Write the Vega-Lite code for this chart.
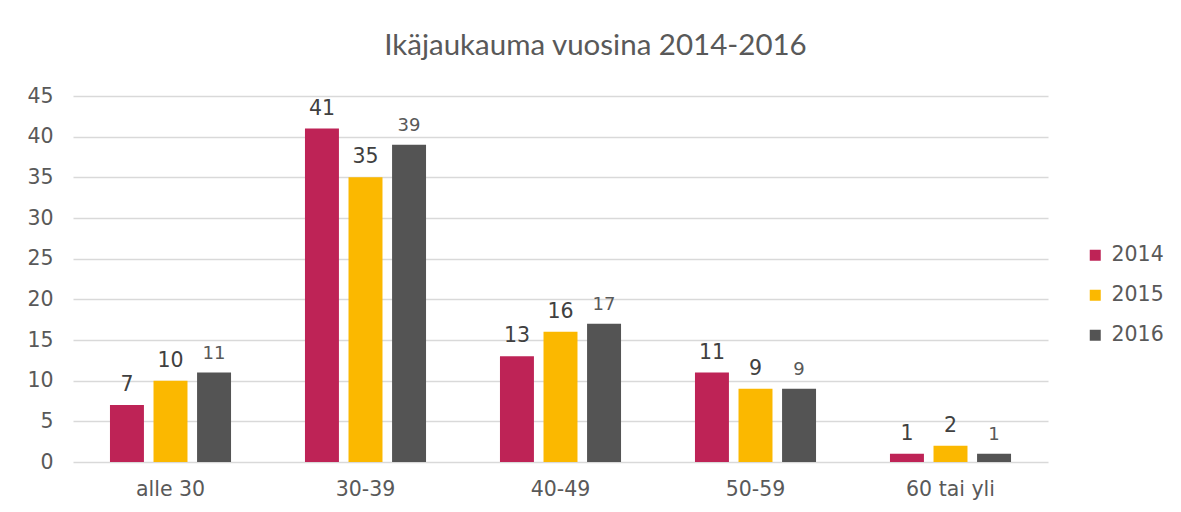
{
  "$schema": "https://vega.github.io/schema/vega-lite/v6.json",
  "width": 975,
  "height": 366,
  "autosize": {"type": "none"},
  "padding": {"left": 73, "top": 96, "right": 133, "bottom": 50},
  "background": "white",
  "config": {
    "view": {"stroke": null},
    "font": "DejaVu Sans",
    "axis": {"labelFont": "DejaVu Sans", "labelColor": "#595959", "labelFontSize": 20.5}
  },
  "title": {
    "text": "Ikäjaukauma vuosina 2014-2016",
    "font": "Lato",
    "fontSize": 29.5,
    "fontWeight": "normal",
    "color": "#595959",
    "anchor": "middle",
    "frame": "bounds",
    "offset": 25
  },
  "data": {
    "values": [
      {"ika": "alle 30", "year": "2014", "value": 7},
      {"ika": "alle 30", "year": "2015", "value": 10},
      {"ika": "alle 30", "year": "2016", "value": 11},
      {"ika": "30-39", "year": "2014", "value": 41},
      {"ika": "30-39", "year": "2015", "value": 35},
      {"ika": "30-39", "year": "2016", "value": 39},
      {"ika": "40-49", "year": "2014", "value": 13},
      {"ika": "40-49", "year": "2015", "value": 16},
      {"ika": "40-49", "year": "2016", "value": 17},
      {"ika": "50-59", "year": "2014", "value": 11},
      {"ika": "50-59", "year": "2015", "value": 9},
      {"ika": "50-59", "year": "2016", "value": 9},
      {"ika": "60 tai yli", "year": "2014", "value": 1},
      {"ika": "60 tai yli", "year": "2015", "value": 2},
      {"ika": "60 tai yli", "year": "2016", "value": 1}
    ]
  },
  "encoding": {
    "x": {
      "field": "ika",
      "type": "nominal",
      "sort": null,
      "scale": {"paddingInner": 0.33, "paddingOuter": 0.165},
      "axis": {"title": null, "labelAngle": 0, "domain": false, "ticks": false, "labelPadding": 17, "grid": false}
    },
    "xOffset": {
      "field": "year",
      "type": "nominal",
      "scale": {"paddingInner": 0.22, "paddingOuter": 0.11}
    },
    "y": {
      "field": "value",
      "type": "quantitative",
      "scale": {"domain": [0, 45], "nice": false},
      "axis": {
        "title": null,
        "values": [0, 5, 10, 15, 20, 25, 30, 35, 40, 45],
        "domain": false,
        "ticks": false,
        "labelPadding": 20,
        "gridColor": "#D9D9D9",
        "gridWidth": 1.3
      }
    }
  },
  "layer": [
    {
      "mark": {"type": "bar"},
      "encoding": {
        "color": {
          "field": "year",
          "type": "nominal",
          "scale": {"domain": ["2014", "2015", "2016"], "range": ["#BE2356", "#FBB800", "#545454"]},
          "legend": {
            "title": null,
            "orient": "none",
            "legendX": 1012,
            "legendY": 149,
            "symbolType": "square",
            "symbolSize": 121,
            "symbolStrokeWidth": 0,
            "labelFontSize": 20.5,
            "labelFont": "DejaVu Sans",
            "labelColor": "#595959",
            "labelOffset": 6,
            "rowPadding": 19
          }
        }
      }
    },
    {
      "mark": {"type": "text", "baseline": "alphabetic", "dy": -14, "font": "DejaVu Sans"},
      "encoding": {
        "text": {"field": "value", "type": "quantitative"},
        "color": {"condition": {"test": "datum.year == '2016'", "value": "#595959"}, "value": "#404040"},
        "size": {"condition": {"test": "datum.year == '2016'", "value": 18}, "value": 20.5}
      }
    }
  ]
}
